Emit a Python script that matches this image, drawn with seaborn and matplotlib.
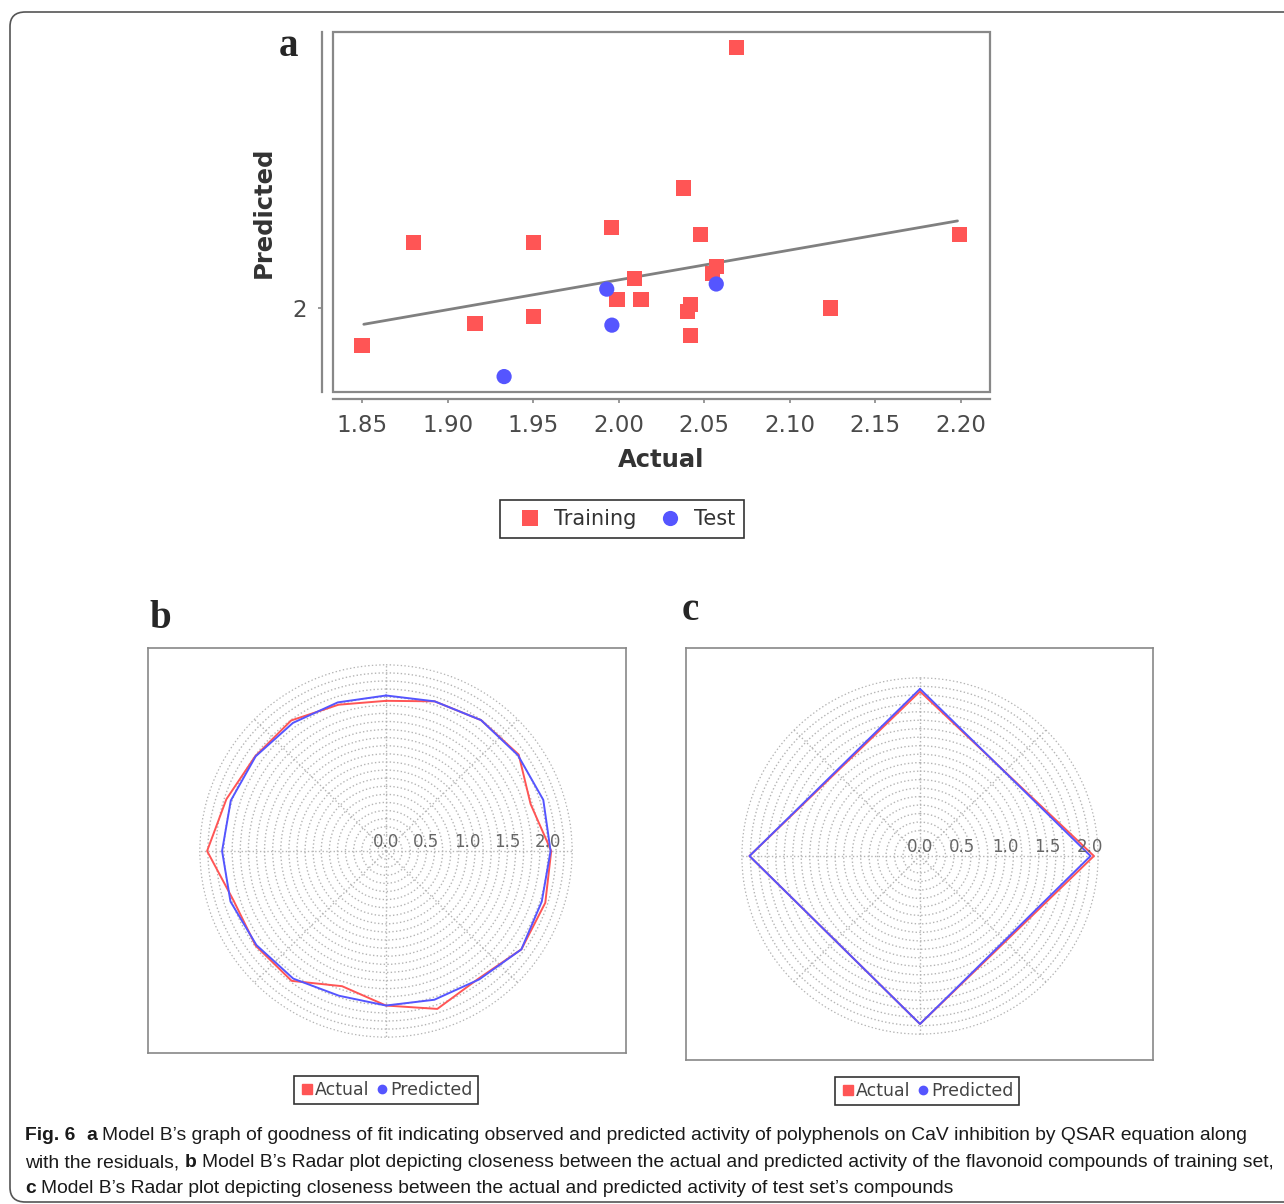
import numpy as np
import pandas as pd
import seaborn as sns
import matplotlib.pyplot as plt
from matplotlib.patches import Rectangle, FancyBboxPatch
from matplotlib.lines import Line2D

# panel a: goodness of fit
train_actual = [1.850, 1.880, 1.916, 1.950, 1.950, 1.996, 1.999, 2.009, 2.013, 2.038,
                2.048, 2.042, 2.040, 2.042, 2.057, 2.055, 2.069, 2.124, 2.199]
train_pred = [1.978, 2.038, 1.991, 2.038, 1.995, 2.047, 2.005, 2.017, 2.005, 2.070,
              2.043, 2.002, 1.998, 1.984, 2.024, 2.020, 2.152, 2.000, 2.043]
test_actual = [1.933, 1.993, 1.996, 2.057]
test_pred = [1.960, 2.011, 1.990, 2.014]
fit_actual = [1.851, 2.198]
fit_pred = [1.9905, 2.0508]
x_ticks = [1.85, 1.90, 1.95, 2.00, 2.05, 2.10, 2.15, 2.20]
y_ticks = [2]

# panel b: radar, training set (clockwise from top)
radar_b_actual = [1.855, 1.944, 1.998, 2.026, 1.878, 2.041, 2.069, 2.067, 1.947, 2.051,
                  1.909, 1.756, 1.983, 1.990, 1.980, 2.210, 2.073, 1.995, 1.993, 1.900]
radar_b_pred = [1.921, 1.944, 1.998, 2.014, 2.043, 2.033, 2.023, 2.067, 1.960, 1.932,
                1.909, 1.880, 1.949, 1.978, 2.020, 2.025, 2.016, 1.990, 1.956, 1.930]
# panel c: radar, test set
radar_c_actual = [1.94, 2.05, 1.98, 2.01]
radar_c_pred = [1.97, 2.01, 1.98, 2.01]
r_labels = ['0.0', '0.5', '1.0', '1.5', '2.0']

RED = '#FF5555'
BLUE = '#5555FF'
W, H = 1284, 1204

sns.set_theme(style='white')
plt.rcParams['font.family'] = ['DejaVu Sans']

fig = plt.figure(figsize=(W / 100, H / 100), dpi=100)


def frac(left, top, right, bottom):
    return [left / W, 1 - bottom / H, (right - left) / W, (bottom - top) / H]


# outer rounded border
fig.patches.append(FancyBboxPatch((10 / W, 2 / H), 1.2, (1200 - 10) / H,
                                  boxstyle='round,pad=0,rounding_size=0.012',
                                  transform=fig.transFigure, fill=False,
                                  ec='#555555', lw=1.2))

# ---- panel a
ax = fig.add_axes(frac(333, 32, 990, 392))
df = pd.DataFrame({
    'Actual': train_actual + test_actual,
    'Predicted': train_pred + test_pred,
    'Set': ['Training'] * len(train_actual) + ['Test'] * len(test_actual),
})
sns.lineplot(x=fit_actual, y=fit_pred, color='#808080', lw=2, ax=ax)
sns.scatterplot(data=df, x='Actual', y='Predicted', hue='Set', style='Set',
                markers={'Training': 's', 'Test': 'o'},
                palette={'Training': RED, 'Test': BLUE},
                s=120, linewidth=0, ax=ax, zorder=3)
ax.set_xlim(1.833, 2.217)
ax.set_ylim(1.951, 2.161)
ax.set_xticks(x_ticks)
ax.set_xticklabels([f'{v:.2f}' for v in x_ticks])
ax.set_yticks(y_ticks)
ax.set_yticklabels([str(v) for v in y_ticks])
ax.tick_params(axis='both', labelsize=16.5, labelcolor='#4a4a4a', colors='#888888',
               length=3, width=1.2, direction='out', left=True, bottom=True, pad=8)
ax.set_xlabel('Actual', fontsize=17.5, fontweight='bold', color='#333333', labelpad=8)
ax.set_ylabel('Predicted', fontsize=17.5, fontweight='bold', color='#333333', labelpad=12)
for side in ['top', 'right']:
    ax.spines[side].set_visible(False)
ax.spines['left'].set_position(('outward', 8))
ax.spines['bottom'].set_position(('outward', 5))
for side in ['left', 'bottom']:
    ax.spines[side].set_color('#888888')
    ax.spines[side].set_linewidth(1.6)
ax.add_patch(Rectangle((0, 0), 1, 1, transform=ax.transAxes, fill=False,
                       ec='#888888', lw=1.6, clip_on=False, zorder=5))
sns.move_legend(ax, 'center', bbox_to_anchor=(0.44, -0.353), ncol=2, title=None,
                frameon=True, fontsize=15, handletextpad=0.15, columnspacing=0.6,
                markerscale=1.0, borderpad=0.45)
leg = ax.get_legend()
leg.get_frame().set_edgecolor('black')
leg.get_frame().set_linewidth(1.2)
leg.get_frame().set_boxstyle('square', pad=0)
for t in leg.get_texts():
    t.set_color('#333333')


# ---- radar panels
def radar(frame_box, polar_box, rmax, actual, pred, legend_xy):
    fa = fig.add_axes(frac(*frame_box))
    fa.set_xticks([])
    fa.set_yticks([])
    for sp in fa.spines.values():
        sp.set_color('#888888')
        sp.set_linewidth(1.2)
    pax = fig.add_axes(frac(*polar_box), projection='polar')
    pax.set_theta_zero_location('N')
    pax.set_theta_direction(-1)
    n = len(actual)
    theta = list(np.arange(n) * 2 * np.pi / n) + [2 * np.pi]
    sns.lineplot(x=theta, y=list(actual) + [actual[0]], sort=False, estimator=None,
                 color=RED, lw=1.4, ax=pax)
    sns.lineplot(x=theta, y=list(pred) + [pred[0]], sort=False, estimator=None,
                 color=BLUE, lw=1.4, ax=pax)
    pax.set_rlim(0, rmax)
    pax.set_rgrids(np.arange(0.1, rmax + 0.001, 0.1), labels=[])
    pax.set_thetagrids(range(0, 360, 45), labels=[])
    pax.grid(color='#b5b5b5', ls=':', lw=1.0)
    pax.spines['polar'].set_visible(False)
    pax.set_facecolor('none')
    pax.set_xlabel('')
    pax.set_ylabel('')
    for lbl in r_labels:
        pax.text(np.pi / 2, float(lbl), lbl, ha='center', va='bottom', fontsize=12,
                 color='#666666')
    handles = [Line2D([], [], marker='s', ls='', color=RED, ms=7, label='Actual'),
               Line2D([], [], marker='o', ls='', color=BLUE, ms=6, label='Predicted')]
    lg = fig.legend(handles=handles, loc='center',
                    bbox_to_anchor=(legend_xy[0] / W, 1 - legend_xy[1] / H),
                    ncol=2, frameon=True, fontsize=12.5, handletextpad=0.0,
                    columnspacing=0.3, handlelength=0.9, borderpad=0.3)
    lg.get_frame().set_edgecolor('black')
    lg.get_frame().set_linewidth(1.2)
    lg.get_frame().set_boxstyle('square', pad=0)
    for t in lg.get_texts():
        t.set_color('#444444')


radar((148, 648, 626, 1053), (199, 664, 573, 1038), 2.31,
      radar_b_actual, radar_b_pred, (386, 1090))
radar((686, 648, 1153, 1060), (741, 677, 1099, 1035), 2.11,
      radar_c_actual, radar_c_pred, (927, 1091))

# panel letters
for letter, (px, py) in {'a': (288, 56), 'b': (160, 628), 'c': (690, 620)}.items():
    fig.text(px / W, 1 - py / H, letter, ha='center', va='baseline', fontsize=28,
             fontweight='bold', family=['Liberation Serif', 'DejaVu Serif'])

# caption with mixed weights
fig.canvas.draw()
renderer = fig.canvas.get_renderer()
cap_family = ['Liberation Sans', 'DejaVu Sans']
caption = [
    [('Fig. 6', True), ('a', True),
     ('Model B’s graph of goodness of fit indicating observed and predicted activity of polyphenols on CaV inhibition by QSAR equation along', False)],
    [('with the residuals,', False), ('b', True),
     ('Model B’s Radar plot depicting closeness between the actual and predicted activity of the flavonoid compounds of training set,', False)],
    [('c', True),
     ('Model B’s Radar plot depicting closeness between the actual and predicted activity of test set’s compounds', False)],
]


def text_width(s, bold, size):
    t = fig.text(0, 0, s, fontsize=size, family=cap_family,
                 fontweight='bold' if bold else 'normal')
    w = t.get_window_extent(renderer).width
    t.remove()
    return w


def line_width(line, size):
    space = text_width('a a', False, size) - text_width('aa', False, size)
    total = 0
    for s, bold in line:
        total += text_width(s, bold, size) + space * (2 if s == 'Fig. 6' else 1)
    return total - space, space


# shrink the caption font so the longest line fits the reference width
cap_size = 13.5
w2, _ = line_width(caption[1], cap_size)
cap_size = cap_size * 1248 / w2

for line, base_y in zip(caption, [1140, 1167, 1193]):
    _, space = line_width(line, cap_size)
    xpix = 25
    for s, bold in line:
        fig.text(xpix / W, 1 - base_y / H, s, fontsize=cap_size, family=cap_family,
                 fontweight='bold' if bold else 'normal', va='baseline', color='#1a1a1a')
        xpix += text_width(s, bold, cap_size) + space * (2 if s == 'Fig. 6' else 1)

fig.savefig('out.png', dpi=100)
